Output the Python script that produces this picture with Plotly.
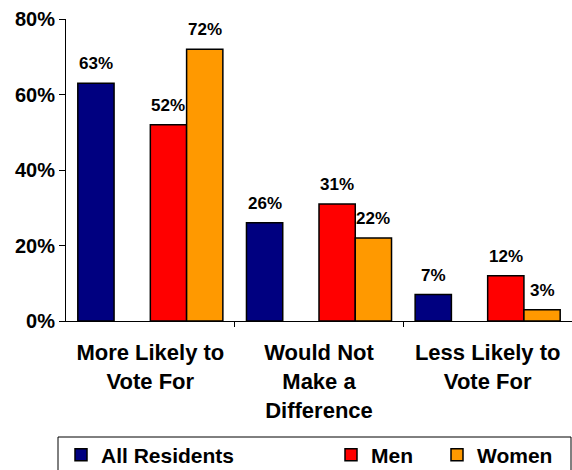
import plotly.graph_objects as go

categories = ["More Likely to<br>Vote For", "Would Not<br>Make a<br>Difference", "Less Likely to<br>Vote For"]
series_names = ["All Residents", "Men", "Women"]
all_residents = [63, 26, 7]
men = [52, 31, 12]
women = [72, 22, 3]
y_ticks = [0, 20, 40, 60, 80]
y_tick_labels = ["0%", "20%", "40%", "60%", "80%"]

colors = ["#000080", "#FF0000", "#FF9900"]
offsets = [-0.43, 0.0, 0.215]
bar_w = 0.215
legends = ["legend", "legend2", "legend3"]

FONT = "Liberation Sans, Arial, sans-serif"
xs = list(range(len(categories)))

fig = go.Figure()
annotations = []
for name, vals, col, off, lg in zip(series_names, [all_residents, men, women], colors, offsets, legends):
    fig.add_trace(go.Bar(
        x=xs, y=vals, name=name, offset=off, width=bar_w,
        marker=dict(color=col, line=dict(color="black", width=1.5)),
        legend=lg,
    ))
    for xi, v in zip(xs, vals):
        annotations.append(dict(
            x=xi + off + bar_w / 2, y=v, xref="x", yref="y",
            text=f"{v}%", showarrow=False, yanchor="bottom", yshift=8,
            font=dict(family=FONT, size=17, color="black", weight="bold"),
        ))

W = 506.0  # plot width in px
H = 302.0  # plot height in px
def px_x(p):
    return (p - 66) / W
def px_y(p):
    return (321 - p) / H

leg_common = dict(orientation="h", yanchor="middle", xanchor="left",
                  xref="container", yref="container", y=(470 - 455) / 470,
                  bgcolor="rgba(0,0,0,0)", borderwidth=0,
                  font=dict(family=FONT, size=21, color="black", weight="bold"))

fig.update_layout(
    width=572, height=470,
    margin=dict(l=66, r=0, t=19, b=149, autoexpand=False),
    paper_bgcolor="white", plot_bgcolor="white",
    barmode="overlay",
    showlegend=True,
    legend=dict(x=61 / 572, **leg_common),
    legend2=dict(x=331 / 572, **leg_common),
    legend3=dict(x=437 / 572, **leg_common),
    annotations=annotations,
    font=dict(family=FONT, color="black"),
    xaxis=dict(
        range=[-0.5, 2.5], tickvals=xs, ticktext=categories, ticks="",
        showline=True, linecolor="black", linewidth=1, zeroline=False, showgrid=False,
        tickfont=dict(family=FONT, size=22, color="black", weight="bold"),
        ticklabelstandoff=12,
        minor=dict(tickvals=[0.5, 1.5], ticks="outside", ticklen=5, tickcolor="black"),
        automargin=False, fixedrange=True,
    ),
    yaxis=dict(
        range=[0, 80], tickvals=y_ticks, ticktext=y_tick_labels, ticks="outside", ticklen=6,
        tickcolor="black", showline=True, linecolor="black", linewidth=1,
        showgrid=False, zeroline=False,
        tickfont=dict(family=FONT, size=20, color="black", weight="bold"),
        automargin=False, fixedrange=True,
    ),
    shapes=[dict(type="rect", xref="paper", yref="paper",
                 x0=px_x(58), x1=px_x(571), y0=px_y(437), y1=px_y(500),
                 line=dict(color="black", width=1), fillcolor="rgba(0,0,0,0)")],
)

fig.write_html("out.html", config={"displayModeBar": False},
               post_script="document.body.style.margin='0';")
